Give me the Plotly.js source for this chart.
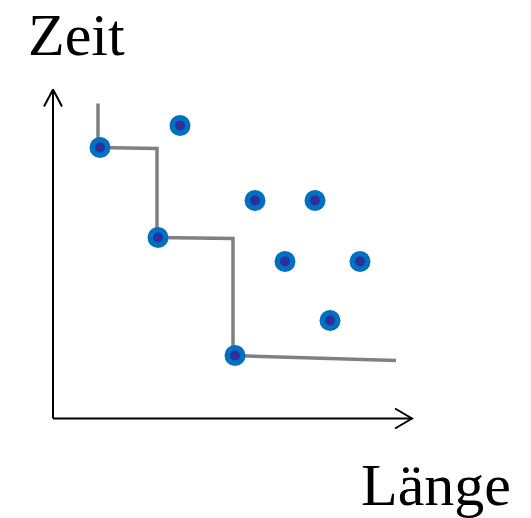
<!DOCTYPE html>
<html>
<head>
<meta charset="utf-8">
<script src="https://cdn.plot.ly/plotly-3.0.1.min.js"></script>
<style>html,body{margin:0;padding:0;background:#fff;}#chart{width:531px;height:518px;}</style>
</head>
<body>
<div id="chart"></div>
<script>
// Solutions (Länge, Zeit) in diagram units (origin at axis corner)
const solLaenge = [47, 127, 105, 202, 262, 232, 307, 277, 182];
const solZeit   = [271, 293, 181, 218, 218, 157, 157, 98, 63];
// Pareto front step line
const frontLaenge = [45, 45, 104, 104, 180, 180, 343];
const frontZeit   = [315, 271, 270, 181, 180, 63, 58];
// Axis arrows
const yAxisX = [0, 0], yAxisY = [0, 329];
const yHeadX = [-9, 0, 9], yHeadY = [312, 329, 312];
const xAxisX = [0, 359], xAxisY = [0, 0];
const xHeadX = [342, 359, 342], xHeadY = [10, 0, -10];
const labelY = "Zeit", labelX = "Länge";

const traces = [
  {x: yAxisX, y: yAxisY, mode: 'lines', line: {color: '#000', width: 2}, hoverinfo: 'skip'},
  {x: yHeadX, y: yHeadY, mode: 'lines', line: {color: '#000', width: 2}, hoverinfo: 'skip'},
  {x: xAxisX, y: xAxisY, mode: 'lines', line: {color: '#000', width: 2}, hoverinfo: 'skip'},
  {x: xHeadX, y: xHeadY, mode: 'lines', line: {color: '#000', width: 2}, hoverinfo: 'skip'},
  {x: frontLaenge, y: frontZeit, mode: 'lines', line: {color: '#808080', width: 3.5}},
  {x: solLaenge, y: solZeit, mode: 'markers', marker: {size: 21, color: '#0070c0', line: {width: 0}}},
  {x: solLaenge, y: solZeit, mode: 'markers', marker: {size: 10, color: '#2e2e9e', line: {width: 0}}}
];

const layout = {
  width: 531, height: 518,
  margin: {l: 0, r: 0, t: 0, b: 0},
  paper_bgcolor: '#fff', plot_bgcolor: '#fff',
  showlegend: false,
  xaxis: {range: [-53, 478], visible: false, fixedrange: true},
  yaxis: {range: [-99.5, 418.5], visible: false, fixedrange: true},
  annotations: [
    {text: labelY, xref: 'x', yref: 'y', x: -27, y: 349, xanchor: 'left', yanchor: 'bottom',
     showarrow: false, font: {family: 'Liberation Serif, Times New Roman, serif', size: 60, color: '#000'}},
    {text: labelX, xref: 'x', yref: 'paper', x: 306, y: 0, yshift: -2, xanchor: 'left', yanchor: 'bottom',
     showarrow: false, font: {family: 'Liberation Serif, Times New Roman, serif', size: 60, color: '#000'}}
  ]
};

Plotly.newPlot('chart', traces, layout, {displayModeBar: false, staticPlot: true});
</script>
</body>
</html>
